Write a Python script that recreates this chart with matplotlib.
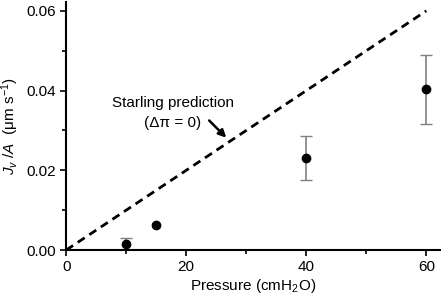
import matplotlib
matplotlib.use("Agg")
import matplotlib.pyplot as plt
import numpy as np
from matplotlib.ticker import MultipleLocator

plt.rcParams['font.family'] = ['Liberation Sans', 'DejaVu Sans']
plt.rcParams['mathtext.fontset'] = 'custom'
plt.rcParams['mathtext.rm'] = 'Liberation Sans'
plt.rcParams['mathtext.it'] = 'Liberation Sans:italic'

pressure = [10, 15, 40, 60]
jv = [0.0015, 0.0062, 0.0230, 0.0403]
err = [0.0015, 0.0, 0.0055, 0.0087]

starling_x = [0, 60]
starling_y = [0.0, 0.06]

fig = plt.figure(figsize=(4.41, 2.97), dpi=100)
ax = fig.add_axes([0.150, 0.158, 0.848, 0.835])

ax.plot(starling_x, starling_y, '--', color='black', lw=2, dashes=(3, 2))

# points without visible error bars drawn as plain markers
has_err = [e > 0 for e in err]
px = [p for p, h in zip(pressure, has_err) if h]
py = [v for v, h in zip(jv, has_err) if h]
pe = [e for e, h in zip(err, has_err) if h]
eb = ax.errorbar(px, py, yerr=pe, fmt='none', ecolor='gray', elinewidth=1.2,
                 capsize=4, capthick=1)
for cap in eb[1]:
    cap.set_color('black')
ax.plot(pressure, jv, 'o', color='black', ms=6, zorder=3)

ax.annotate('', xy=(27.0, 0.0277), xytext=(23.5, 0.0330),
            arrowprops=dict(arrowstyle='-|>', color='black', lw=1.8, mutation_scale=11))
ax.text(17.8, 0.0368, 'Starling prediction', ha='center', va='center', fontsize=11)
ax.text(17.7, 0.0318, '(Δπ = 0)', ha='center', va='center', fontsize=11)

ax.set_xlim(0, 62.3)
ax.set_ylim(0, 0.0622)
ax.xaxis.set_major_locator(MultipleLocator(20))
ax.xaxis.set_minor_locator(MultipleLocator(10))
ax.yaxis.set_major_locator(MultipleLocator(0.02))
ax.yaxis.set_minor_locator(MultipleLocator(0.01))
ax.yaxis.set_major_formatter(matplotlib.ticker.FormatStrFormatter('%.2f'))
ax.tick_params(which='major', length=4, width=1.2, labelsize=11)
ax.tick_params(which='minor', length=3, width=1.2)

for s in ['top', 'right']:
    ax.spines[s].set_visible(False)
for s in ['left', 'bottom']:
    ax.spines[s].set_linewidth(1.5)

ax.set_xlabel('Pressure (cmH$_2$O)', fontsize=11, labelpad=2)
ax.set_ylabel('$J_v$ /$A$  (μm s$^{-1}$)', fontsize=11, labelpad=4)

fig.savefig('out.png', dpi=100)
